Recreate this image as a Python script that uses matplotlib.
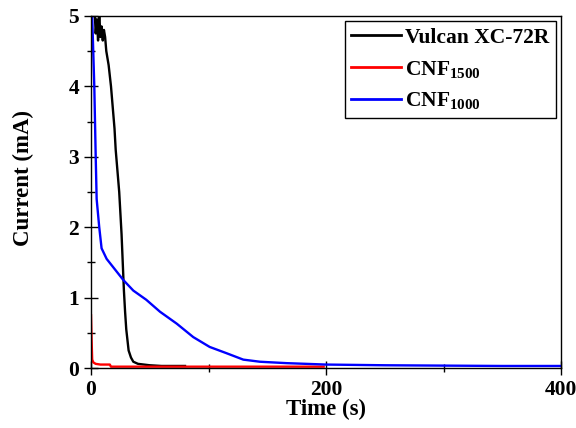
import matplotlib
matplotlib.use("Agg")
import matplotlib.pyplot as plt
from matplotlib.ticker import MultipleLocator

plt.rcParams['font.family'] = ['Liberation Serif', 'DejaVu Serif']
plt.rcParams['font.weight'] = 'bold'
plt.rcParams['mathtext.fontset'] = 'custom'
plt.rcParams['mathtext.rm'] = 'Liberation Serif:bold'
plt.rcParams['mathtext.bf'] = 'Liberation Serif:bold'
plt.rcParams['mathtext.default'] = 'rm'

# Vulcan XC-72R
t_vulcan = [0, 2, 3, 4, 5, 6, 7, 8, 9, 10, 11, 12, 13, 15, 17, 19, 20, 21, 22, 24,
            25, 26, 27, 28, 29, 30, 31, 32, 34, 36, 40, 50, 60, 80]
i_vulcan = [5.5, 5.3, 5.1, 4.75, 4.95, 4.65, 5.05, 4.7, 4.85, 4.65, 4.8, 4.7, 4.5, 4.3,
            4.0, 3.6, 3.4, 3.1, 2.9, 2.5, 2.2, 1.9, 1.5, 1.1, 0.8, 0.55, 0.4, 0.25,
            0.15, 0.09, 0.06, 0.04, 0.03, 0.03]

# CNF1500
t_cnf1500 = [0, 0.5, 1, 2, 4, 8, 16, 17, 60, 120, 198]
i_cnf1500 = [0.75, 0.4, 0.12, 0.08, 0.06, 0.05, 0.05, 0.02, 0.02, 0.02, 0.02]

# CNF1000
t_cnf1000 = [0.3, 1, 2.8, 4, 4.8, 7, 9, 13.3, 20.4, 27.5, 36, 47, 58.7, 73, 87,
             101, 115.5, 129.6, 143.8, 166.5, 200, 250, 300, 350, 399]
i_cnf1000 = [5.5, 5.0, 4.0, 3.0, 2.4, 2.0, 1.7, 1.55, 1.4, 1.25, 1.1, 0.97, 0.8,
             0.63, 0.44, 0.30, 0.21, 0.12, 0.09, 0.07, 0.05, 0.04, 0.035, 0.03, 0.03]

labels = ['Vulcan XC-72R', r'CNF$_{1500}$', r'CNF$_{1000}$']
colors = ['black', 'red', 'blue']

fig = plt.figure(figsize=(5.76, 4.28), dpi=100)
ax = fig.add_axes([0.158, 0.140, 0.816, 0.823])

ax.plot(t_vulcan, i_vulcan, color=colors[0], lw=1.7, label=labels[0])
ax.plot(t_cnf1500, i_cnf1500, color=colors[1], lw=1.7, label=labels[1])
ax.plot(t_cnf1000, i_cnf1000, color=colors[2], lw=1.7, label=labels[2])

ax.set_xlim(0, 400)
ax.set_ylim(0, 5)
ax.xaxis.set_major_locator(MultipleLocator(200))
ax.xaxis.set_minor_locator(MultipleLocator(100))
ax.yaxis.set_major_locator(MultipleLocator(1))
ax.yaxis.set_minor_locator(MultipleLocator(0.5))
ax.tick_params(which='major', direction='inout', length=10, width=1, labelsize=15.5,
               top=False, right=False)
ax.tick_params(which='minor', direction='inout', length=6, width=1,
               top=False, right=False)
for lab in ax.get_xticklabels() + ax.get_yticklabels():
    lab.set_fontweight('bold')

ax.set_xlabel('Time (s)', fontsize=16.5, fontweight='bold', labelpad=-1)
ax.set_ylabel('Current (mA)', fontsize=16.5, fontweight='bold')
ax.yaxis.set_label_coords(-0.122, 0.54)

for s in ax.spines.values():
    s.set_linewidth(1.0)

leg = ax.legend(loc='upper right', frameon=True, fancybox=False,
                edgecolor='black', framealpha=1, handlelength=2.3,
                handletextpad=0.2, labelspacing=0.5, borderpad=0.3,
                borderaxespad=0.25, prop={'family': 'Liberation Serif',
                                          'weight': 'bold', 'size': 15.5})
leg.get_frame().set_linewidth(1.0)
for line in leg.get_lines():
    line.set_linewidth(2)

fig.savefig('out.png', dpi=100)
